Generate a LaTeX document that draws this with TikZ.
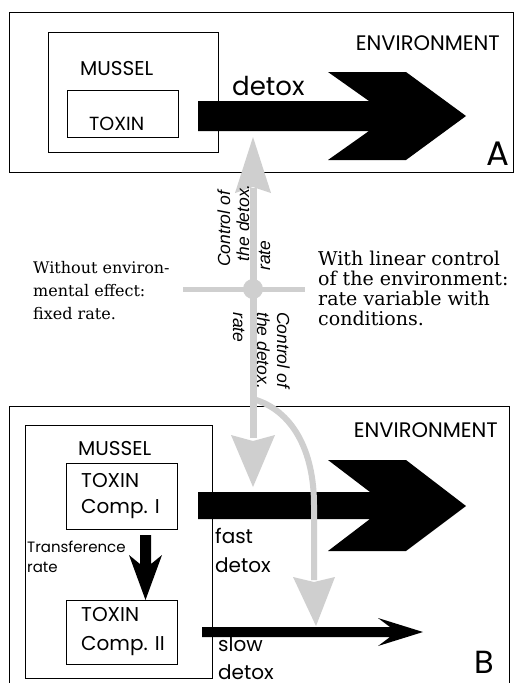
\documentclass[tikz,border=0pt]{standalone}
\usepackage{fontspec}
\setmainfont{Poppins}
\newfontfamily\serifx{DejaVu Serif}
\newfontfamily\itsans{Liberation Sans}
\definecolor{ctl}{gray}{0.81}
\newcommand{\fsz}[1]{\fontsize{#1}{#1}\selectfont}
\tikzset{
  frame/.style={draw=black, line width=1pt, inner sep=0, anchor=north west},
  inbox/.style={draw=black, line width=0.8pt, inner sep=0, anchor=north west},
  lab/.style={inner sep=0, anchor=base west},
  labr/.style={inner sep=0, anchor=base east},
  blackarrow/.style={fill=black, draw=none},
  ctlline/.style={draw=ctl, line width=7pt},
  ctlhead/.style={fill=ctl, draw=none},
  serl/.style={lab, font=\serifx\fsz{16}},
  serr/.style={lab, font=\serifx\fsz{19}},
  rottext/.style={inner sep=0, font=\itsans\itshape\fsz{17.5}},
}
\begin{document}
\begin{tikzpicture}[x=1pt,y=-1pt]
\useasboundingbox (0,0) rectangle (517,683);
\clip (0,0) rectangle (517,683);
\fill[white] (0,0) rectangle (517,683);

% ---------- Panel A ----------
\node[frame, minimum width=504, minimum height=160] (panA) at (9,12) {};
\node[inbox, minimum width=170, minimum height=120] (musA) at (48,32) {};
\node[inbox, minimum width=111, minimum height=47] (toxA) at (67,90) {};
\node[labr, font=\fsz{21}] (envA) at (500,50) {ENVIRONMENT};
\node[lab, font=\fsz{20}] (musAl) at (80,75) {MUSSEL};
\node[lab, font=\fsz{19}] (toxAl) at (89,130) {TOXIN};
\fill[blackarrow] (198,101) -- (369,101) -- (328,72) -- (406,72) -- (466,116)
  -- (406,160) -- (328,160) -- (369,131) -- (198,131) -- cycle;
\node[lab, font=\fsz{26}] (detA) at (232,95) {detox};
\node[lab, font=\fsz{34}] (letA) at (486,165) {A};

% ---------- Panel B ----------
\node[frame, minimum width=500, minimum height=294] (panB) at (9,406) {};
\node[inbox, minimum width=187, minimum height=253] (musB) at (25,425) {};
\node[inbox, minimum width=111, minimum height=66] (c1) at (66,463) {};
\node[inbox, minimum width=111, minimum height=64] (c2) at (66,600) {};
\node[labr, font=\fsz{21}] (envB) at (498,437) {ENVIRONMENT};
\node[lab, font=\fsz{20}] (musBl) at (78,455) {MUSSEL};
\node[lab, font=\fsz{20}] (c1a) at (81,487) {TOXIN};
\node[lab, font=\fsz{20}] (c1b) at (81,513) {Comp. I};
\node[lab, font=\fsz{20}] (c2a) at (81,621) {TOXIN};
\node[lab, font=\fsz{20}] (c2b) at (81,650) {Comp. II};
\node[lab, font=\fsz{15}] (tr1) at (27,552) {Transference};
\node[lab, font=\fsz{15}] (tr2) at (27,572) {rate};
% transference arrow
\fill[blackarrow] (140,535) -- (151,535) -- (151,564) -- (162,555) -- (145.5,600)
  -- (129,555) -- (140,564) -- cycle;
% fast detox
\fill[blackarrow] (198,492) -- (370,492) -- (328,460) -- (406,460) -- (466,506)
  -- (406,551) -- (328,551) -- (370,519) -- (198,519) -- cycle;
% slow detox
\fill[blackarrow] (202,627) -- (390,627) -- (378,618) -- (423,632) -- (378,646)
  -- (390,637) -- (202,637) -- cycle;
\node[lab, font=\fsz{20}] (fa1) at (215,543) {fast};
\node[lab, font=\fsz{20}] (fa2) at (215,572) {detox};
\node[lab, font=\fsz{20}] (sl1) at (218,651) {slow};
\node[lab, font=\fsz{20}] (sl2) at (218,679) {detox};
\node[lab, font=\fsz{32}] (letB) at (474,673) {B};

% ---------- control arrows (grey) ----------
\coordinate (ctop) at (253,188);
\coordinate (cbot) at (253,438);
\coordinate (cmid) at (253,289);
\draw[ctlline] (ctop) -- (cbot);
\fill[ctlhead] (253,137) -- (271,193) -- (253,187) -- (235,193) -- cycle;
\fill[ctlhead] (231,435) -- (253,441) -- (275,435) -- (253,487) -- cycle;
\draw[draw=ctl, line width=5pt] (183,289) -- (305,289);
\fill[ctl] (cmid) circle (10);
\draw[draw=ctl, line width=6pt] (253,399) .. controls (292,410) and (314,450) .. (314,505) -- (314,580);
\fill[ctlhead] (293,577) -- (314,582) -- (335,577) -- (316,626) -- cycle;

% rotated labels
\node[rottext, rotate=90, anchor=base west] (u1) at (230,267) {Control of};
\node[rottext, rotate=90, anchor=base east] (u2) at (249,184) {the detox.};
\node[rottext, rotate=90, anchor=base west] (u3) at (270,271) {rate};
\node[rottext, rotate=-90, anchor=base west] (d1) at (277,312) {Control of};
\node[rottext, rotate=-90, anchor=base west] (d2) at (257,312) {the detox.};
\node[rottext, rotate=-90, anchor=base west] (d3) at (233,312) {rate};

% side texts
\node[serl] (l1) at (33,273) {Without environ-};
\node[serl] (l2) at (33,296) {mental effect:};
\node[serl] (l3) at (33,319) {fixed rate.};
\node[serr] (r1) at (318,265) {With linear control};
\node[serr] (r2) at (318,285) {of the environment:};
\node[serr] (r3) at (318,305) {rate variable with};
\node[serr] (r4) at (318,325) {conditions.};
\end{tikzpicture}
\end{document}
